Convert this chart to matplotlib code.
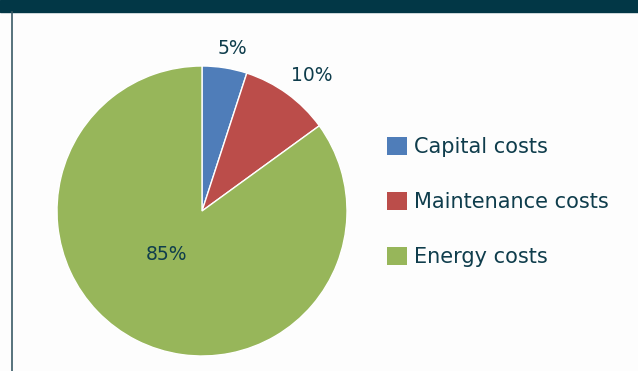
import numpy as np
import matplotlib
matplotlib.use("Agg")
import matplotlib.pyplot as plt
from matplotlib.patches import Rectangle, Patch
from matplotlib.lines import Line2D

# cost breakdown (share of lifetime cost, %)
categories = ["Capital costs", "Maintenance costs", "Energy costs"]
shares = [5, 10, 85]
colors = ["#4F7DB9", "#BB4D4A", "#97B65A"]
# label placement: radial distance and angular nudge (deg) from wedge middle
label_dist = [1.14, 1.20, 0.39]
label_nudge = [-1.5, -3, -12]

INK = "#0F3D4C"
BAR = "#023746"

plt.rcParams["font.family"] = ["DejaVu Sans"]

fig = plt.figure(figsize=(6.38, 3.71), dpi=100, facecolor="#FDFDFD")

# header band and left rule
fig.patches.append(Rectangle((0, 1 - 12 / 371), 1, 12 / 371, transform=fig.transFigure,
                             color=BAR, zorder=0))
fig.lines.append(Line2D([11.5 / 638, 11.5 / 638], [0, 1 - 12 / 371], transform=fig.transFigure,
                        color="#3A5A66", linewidth=1.2))

W, H = 638, 371
cx, cy, r = 202, 211, 145
ax = fig.add_axes([(cx - r) / W, (H - cy - r) / H, 2 * r / W, 2 * r / H])
wedges, _ = ax.pie(shares, colors=colors, startangle=90, counterclock=False, radius=1,
                   wedgeprops=dict(edgecolor="white", linewidth=1.0))
ax.set_xlim(-1, 1)
ax.set_ylim(-1, 1)
ax.set_aspect("equal")
ax.axis("off")

for w, v, d, n in zip(wedges, shares, label_dist, label_nudge):
    ang = np.deg2rad((w.theta1 + w.theta2) / 2 + n)
    ax.text(d * np.cos(ang), d * np.sin(ang), f"{v}%", ha="center", va="center",
            fontsize=13.5, color=INK, clip_on=False)

handles = [Patch(facecolor=c, edgecolor="none") for c in colors]
fig.legend(handles, categories, loc="center left", bbox_to_anchor=(387 / W, 1 - 202 / H),
           frameon=False, fontsize=15, labelcolor=INK, handlelength=20 / 21, handleheight=20 / 21,
           handletextpad=0.33, labelspacing=1.68, borderpad=0, borderaxespad=0)

fig.savefig("out.png", dpi=100, facecolor=fig.get_facecolor())
